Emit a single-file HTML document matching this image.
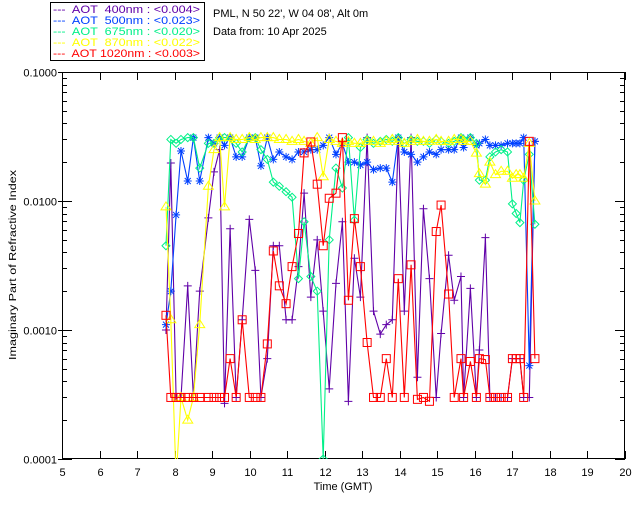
<!DOCTYPE html>
<html><head><meta charset="utf-8"><style>
html,body{margin:0;padding:0;background:#fff;}
svg{display:block;font-family:"Liberation Sans",sans-serif;}
</style></head><body>
<svg id="chart" width="640" height="512" viewBox="0 0 640 512" xmlns="http://www.w3.org/2000/svg">
<defs><clipPath id="pc"><rect x="62" y="72" width="563" height="387"/></clipPath></defs>
<g>
<rect x="50.5" y="2.5" width="154" height="58" fill="#fff" stroke="#000"/>
<g font-size="11">
<text x="53" y="13" fill="#6000a8" textLength="147" lengthAdjust="spacingAndGlyphs" xml:space="preserve">---  AOT  400nm : &lt;0.004&gt;</text>
<text x="53" y="24" fill="#0040ff" textLength="147" lengthAdjust="spacingAndGlyphs" xml:space="preserve">---  AOT  500nm : &lt;0.023&gt;</text>
<text x="53" y="35" fill="#00f088" textLength="147" lengthAdjust="spacingAndGlyphs" xml:space="preserve">---  AOT  675nm : &lt;0.020&gt;</text>
<text x="53" y="46" fill="#ffff00" textLength="147" lengthAdjust="spacingAndGlyphs" xml:space="preserve">---  AOT  870nm : &lt;0.022&gt;</text>
<text x="53" y="57" fill="#ff0000" textLength="147" lengthAdjust="spacingAndGlyphs" xml:space="preserve">---  AOT 1020nm : &lt;0.003&gt;</text>
</g></g>
<text x="213" y="17" font-size="11">PML, N 50 22', W 04 08', Alt 0m</text>
<text x="213" y="35" font-size="11">Data from: 10 Apr 2025</text>
<text x="16" y="265" font-size="10" text-anchor="middle" textLength="190" lengthAdjust="spacingAndGlyphs" transform="rotate(-90 16 265)">Imaginary Part of Refractive Index</text>
<text x="343" y="490" font-size="11" text-anchor="middle">Time (GMT)</text>
<g id="axes"></g>
<g id="series" clip-path="url(#pc)"></g>
</svg>
<script>
const times=[7.77,7.9,8.04,8.17,8.35,8.5,8.67,8.9,9.05,9.2,9.33,9.48,9.64,9.8,9.99,10.15,10.3,10.47,10.63,10.79,10.97,11.13,11.3,11.45,11.63,11.8,11.96,12.12,12.3,12.47,12.63,12.79,12.95,13.13,13.3,13.48,13.64,13.8,13.96,14.12,14.3,14.47,14.63,14.79,14.97,15.1,15.3,15.45,15.63,15.7,15.88,16.04,16.12,16.28,16.4,16.55,16.7,16.87,17.0,17.1,17.2,17.3,17.45,17.6];
const aot400=[0.001,0.0197,0.0003,0.0003,0.0022,0.0003,0.002,0.0074,0.0168,0.025,0.00027,0.0061,0.0003,0.0012,0.0072,0.0029,0.0003,0.0006,0.0045,0.0045,0.0012,0.0012,0.0031,0.0115,0.0018,0.005,0.0014,0.00035,0.0023,0.0069,0.00028,0.0036,0.0018,0.031,0.0014,0.00093,0.0011,0.0012,0.031,0.0014,0.031,0.00043,0.0087,0.0025,0.0003,0.00094,0.0038,0.0017,0.0026,0.0003,0.0021,0.0003,0.0007,0.0052,0.0003,0.0003,0.0003,0.0003,0.0006,0.0006,0.0006,0.0003,0.0003,0.029];
const aot500=[0.0011,0.002,0.0078,0.0244,0.0143,0.031,0.0143,0.031,0.028,0.031,0.027,0.031,0.022,0.022,0.031,0.031,0.0187,0.031,0.021,0.024,0.022,0.021,0.024,0.024,0.025,0.025,0.027,0.031,0.023,0.028,0.02,0.02,0.019,0.02,0.0175,0.018,0.018,0.014,0.031,0.024,0.023,0.02,0.022,0.024,0.023,0.025,0.025,0.025,0.031,0.026,0.031,0.027,0.028,0.03,0.027,0.027,0.027,0.028,0.028,0.028,0.028,0.031,0.00053,0.029];
const aot675=[0.0045,0.03,0.028,0.03,0.031,0.031,0.018,0.028,0.028,0.031,0.031,0.031,0.028,0.024,0.031,0.031,0.025,0.021,0.014,0.013,0.0118,0.0107,0.0025,0.0069,0.0026,0.002,0.0001,0.005,0.018,0.0126,0.031,0.0071,0.026,0.03,0.028,0.029,0.03,0.029,0.031,0.028,0.03,0.029,0.029,0.028,0.03,0.029,0.028,0.029,0.031,0.03,0.031,0.028,0.0145,0.0145,0.022,0.024,0.025,0.024,0.0095,0.008,0.0068,0.0145,0.023,0.0066];
const aot870=[0.009,0.0012,0.00007,0.0003,0.0002,0.0003,0.0011,0.013,0.025,0.031,0.009,0.031,0.03,0.03,0.031,0.03,0.031,0.031,0.031,0.03,0.03,0.029,0.03,0.029,0.028,0.031,0.0154,0.03,0.029,0.028,0.029,0.028,0.028,0.029,0.029,0.028,0.029,0.03,0.029,0.028,0.029,0.03,0.029,0.029,0.03,0.029,0.029,0.03,0.03,0.029,0.029,0.0235,0.0163,0.0135,0.02,0.016,0.017,0.017,0.015,0.016,0.016,0.015,0.028,0.01];
const aot1020=[0.0013,0.0003,0.0003,0.0003,0.0003,0.0003,0.0003,0.0003,0.0003,0.0003,0.0003,0.0006,0.0003,0.0012,0.0003,0.0003,0.0003,0.00078,0.0041,0.0022,0.0016,0.0031,0.0056,0.0236,0.0287,0.0135,0.0045,0.0105,0.0115,0.031,0.0017,0.0073,0.0031,0.0008,0.0003,0.0003,0.0006,0.0003,0.0025,0.0003,0.0032,0.00029,0.0003,0.00028,0.0058,0.0093,0.0019,0.0003,0.0006,0.0003,0.00057,0.0003,0.0006,0.00059,0.0003,0.0003,0.0003,0.0003,0.0006,0.0006,0.0006,0.0003,0.029,0.0006];
const xTicks=[5,6,7,8,9,10,11,12,13,14,15,16,17,18,19,20];
const yTicks=[0.1,0.01,0.001,0.0001];
const yTickLabels=["0.1000","0.0100","0.0010","0.0001"];

const X0=62,X1=625,Y0=72,Y1=459;
function xs(t){return X0+(t-5)/(20-5)*(X1-X0);}
function ys(v){return Y0+(-1-Math.log10(v))/3*(Y1-Y0);}
const NS="http://www.w3.org/2000/svg";
function mk(tag,attrs,parent){const e=document.createElementNS(NS,tag);for(const k in attrs)e.setAttribute(k,attrs[k]);parent.appendChild(e);return e;}
const axes=document.getElementById('axes');
const frame=mk('rect',{x:X0+0.5,y:Y0+0.5,width:X1-X0-1,height:Y1-Y0-1,fill:'none',stroke:'#000'},axes);


xTicks.forEach(t=>{
  const x=Math.round(xs(t))+0.5;
  mk('line',{x1:x,y1:Y1,x2:x,y2:Y1-8,stroke:'#000'},axes);
  mk('line',{x1:x,y1:Y0,x2:x,y2:Y0+8,stroke:'#000'},axes);
  const lb=mk('text',{x:x,y:Y1+17,'font-size':11,'text-anchor':'middle'},axes);
  lb.textContent=String(t);
  
  
});
yTicks.forEach((v,i)=>{
  const y=Math.round(ys(v))+0.5;
  mk('line',{x1:X0-4,y1:y,x2:X0+10,y2:y,stroke:'#000'},axes);
  mk('line',{x1:X1,y1:y,x2:X1-10,y2:y,stroke:'#000'},axes);
  const lb=mk('text',{x:X0-5,y:y+4,'font-size':11,'text-anchor':'end'},axes);
  lb.textContent=yTickLabels[i];
  
  
  if(i<yTicks.length-1){for(let m=2;m<=9;m++){const ym=Math.round(ys(v/10*m))+0.5;
    mk('line',{x1:X0,y1:ym,x2:X0+5,y2:ym,stroke:'#000'},axes);
    mk('line',{x1:X1,y1:ym,x2:X1-5,y2:ym,stroke:'#000'},axes);}}
});
const sg=document.getElementById('series');
function marker(g,type,x,y,c){
  if(type==='plus'){mk('path',{d:`M${x-4} ${y}H${x+4}M${x} ${y-4}V${y+4}`,stroke:c,fill:'none'},g);}
  else if(type==='star'){mk('path',{d:`M${x-4} ${y}H${x+4}M${x} ${y-4}V${y+4}M${x-3} ${y-3}L${x+3} ${y+3}M${x-3} ${y+3}L${x+3} ${y-3}`,stroke:c,fill:'none'},g);}
  else if(type==='diamond'){mk('path',{d:`M${x} ${y-4}L${x+4} ${y}L${x} ${y+4}L${x-4} ${y}Z`,stroke:c,fill:'none'},g);}
  else if(type==='tri'){mk('path',{d:`M${x} ${y-5}L${x+5} ${y+3}L${x-5} ${y+3}Z`,stroke:c,fill:'none'},g);}
  else {mk('rect',{x:x-4,y:y-4,width:8,height:8,stroke:c,fill:'none'},g);}
}
const series=[["aot-400",aot400,"#6000a8","plus"],["aot-500",aot500,"#0040ff","star"],["aot-675",aot675,"#00f088","diamond"],["aot-870",aot870,"#ffff00","tri"],["aot-1020",aot1020,"#ff0000","square"]];
series.forEach(s=>{
  const g=mk('g',{},sg);
  
  
  const pts=times.map((t,i)=>[xs(t),ys(s[1][i])]);
  const ln=mk('polyline',{points:pts.map(p=>p[0].toFixed(1)+','+p[1].toFixed(1)).join(' '),fill:'none',stroke:s[2],'stroke-width':1.1},g);
  
  
  pts.forEach(p=>marker(g,s[3],p[0],p[1],s[2]));
});
</script>
</body></html>
